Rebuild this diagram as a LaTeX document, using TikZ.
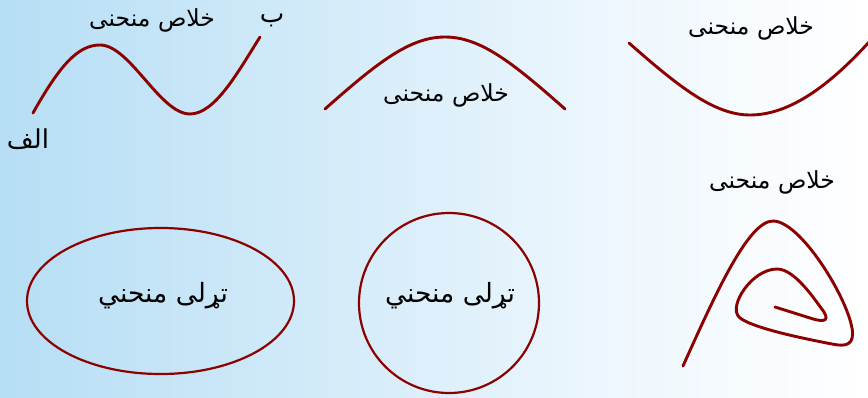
\documentclass[tikz,border=0pt]{standalone}
\usepackage{fontspec}
\TeXXeTstate=1
\newfontfamily\arabicfont[Script=Arabic]{DejaVu Sans}
\definecolor{bgL}{RGB}{182,222,245}
\definecolor{bgM}{RGB}{238,247,253}
\definecolor{curve}{RGB}{140,0,0}
\tikzset{
  crv/.style={draw=curve, line width=2.9pt, line cap=round},
  closedcrv/.style={draw=curve, line width=2.2pt},
  lblsmall/.style={font=\arabicfont\fontsize{23.5}{26}\selectfont, inner sep=0pt},
  lblletter/.style={font=\arabicfont\fontsize{26}{28}\selectfont, inner sep=0pt},
  lblbig/.style={font=\arabicfont\fontsize{26.5}{30}\selectfont, inner sep=0pt},
}
\begin{document}
\begin{tikzpicture}[x=1pt,y=-1pt]
\useasboundingbox (0,0) rectangle (868,397);
\shade[left color=bgL, right color=bgM] (0,0) rectangle (620,397);
\shade[left color=bgM, right color=white] (619.5,0) rectangle (868,397);
\begin{scope}
\clip (0,0) rectangle (868,397);
% wave
\draw[crv] (33,113) .. controls (60,65) and (78,45) .. (100,45)
  .. controls (130,45) and (160,114) .. (190,114)
  .. controls (215,114) and (238,72) .. (260,37);
% arch
\draw[crv] (325,109) .. controls (378,62) and (410,37) .. (445,37)
  .. controls (480,37) and (512,62) .. (565,109);
% U
\draw[crv] (629,43) .. controls (680,88) and (715,115) .. (750,115)
  .. controls (790,115) and (830,85) .. (870,41);
% spiral
\draw[crv] (683,366) .. controls (715,295) and (748,221) .. (773,221)
  .. controls (800,221) and (846,295) .. (852,328)
  .. controls (855,345) and (846,347) .. (832,344)
  .. controls (790,336) and (748,326) .. (739,317)
  .. controls (728,306) and (752,269) .. (777,269)
  .. controls (795,269) and (815,300) .. (824,312)
  .. controls (830,322) and (822,322) .. (810,318)
  -- (775,307);
% ellipse and circle
\draw[closedcrv] (160.5,301) ellipse [x radius=133.5, y radius=73];
\draw[closedcrv] (449,303) circle [radius=90];
\end{scope}
% labels
\node[lblsmall] (t1) at (152,20) {\beginR خلاص منحنی\endR};
\node[lblletter] (tb) at (272,20) {\beginR ب\endR};
\node[lblletter] (ta) at (28,139) {\beginR الف\endR};
\node[lblsmall] (t2) at (446,95) {\beginR خلاص منحنی\endR};
\node[lblsmall] (t3) at (751,28) {\beginR خلاص منحنی\endR};
\node[lblsmall] (t4) at (772,182) {\beginR خلاص منحنی\endR};
\node[lblbig] (t5) at (163,296) {\beginR تړلی منحني\endR};
\node[lblbig] (t6) at (450,296) {\beginR تړلی منحني\endR};
\end{tikzpicture}
\end{document}
